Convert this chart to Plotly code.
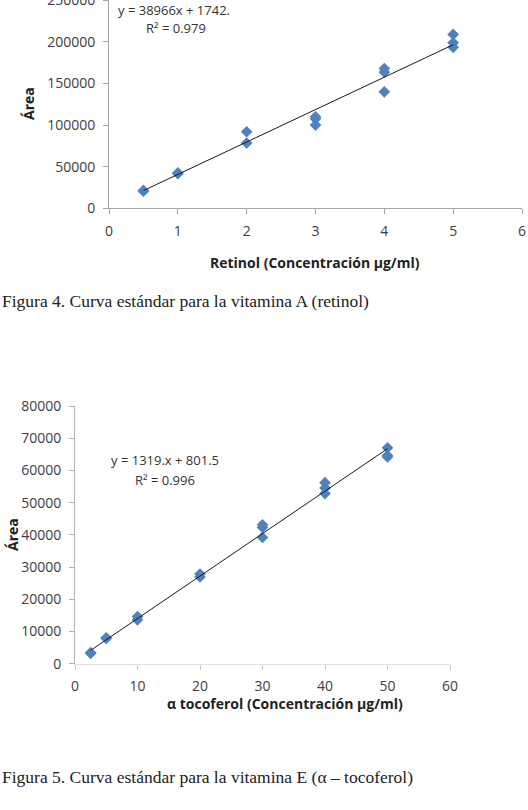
import plotly.graph_objects as go

# ---- data ----
ret_conc = [0.5, 0.5, 1, 1, 2, 2, 3, 3, 3, 4, 4, 4, 5, 5, 5]
ret_area = [20500, 21500, 41500, 42500, 92000, 78500, 110000, 107500, 100000,
            168000, 163500, 140000, 209000, 199000, 193500]
ret_slope, ret_intercept = 38966, 1742
ret_fit_x = [0.5, 5]

toc_conc = [2.5, 2.5, 5, 5, 10, 10, 20, 20, 30, 30, 30, 40, 40, 40, 50, 50, 50]
toc_area = [3200, 3400, 7800, 8000, 14600, 13600, 27800, 26900, 39200, 42300, 43100,
            56200, 54500, 52800, 67000, 64600, 64200]
toc_slope, toc_intercept = 1319, 801.5
toc_fit_x = [2.5, 50]

ret_xticks = [0, 1, 2, 3, 4, 5, 6]
ret_yticks = [0, 50000, 100000, 150000, 200000, 250000]
toc_xticks = [0, 10, 20, 30, 40, 50, 60]
toc_yticks = [0, 10000, 20000, 30000, 40000, 50000, 60000, 70000, 80000]

W, H = 528, 810
BLUE = "#4F81BD"
TICKFONT = dict(family="Open Sans", size=14, color="#404040")
TITLEFONT = dict(family="Open Sans", size=14, color="#222222")

def px(x):
    return x / W

def py(y):
    return 1 - y / H

fig = go.Figure()

# Retinol
fig.add_trace(go.Scatter(x=ret_conc, y=ret_area, mode="markers",
                         marker=dict(symbol="diamond", size=9, color=BLUE),
                         xaxis="x", yaxis="y", showlegend=False))
fig.add_trace(go.Scatter(x=ret_fit_x, y=[ret_slope * v + ret_intercept for v in ret_fit_x],
                         mode="lines", line=dict(color="#1a1a1a", width=1),
                         xaxis="x", yaxis="y", showlegend=False))
# Tocoferol
fig.add_trace(go.Scatter(x=toc_conc, y=toc_area, mode="markers",
                         marker=dict(symbol="diamond", size=9, color=BLUE),
                         xaxis="x2", yaxis="y2", showlegend=False))
fig.add_trace(go.Scatter(x=toc_fit_x, y=[toc_slope * v + toc_intercept for v in toc_fit_x],
                         mode="lines", line=dict(color="#1a1a1a", width=1),
                         xaxis="x2", yaxis="y2", showlegend=False))

axis_common = dict(showgrid=False, zeroline=False, showline=True, ticks="outside",
                   ticklen=5, tickfont=TICKFONT, tickformat="d",
                   ticklabeloverflow="allow", automargin=False)

fig.update_layout(
    width=W, height=H,
    margin=dict(l=0, r=0, t=0, b=0),
    paper_bgcolor="white", plot_bgcolor="white",
    xaxis=dict(domain=[px(109), px(522)], range=[0, 6], tickvals=ret_xticks,
               anchor="y", linecolor="#a6a6a6", tickcolor="#a6a6a6",
               ticklabelstandoff=5, **axis_common),
    yaxis=dict(domain=[py(208.3), 1.0], range=[0, 250360], tickvals=ret_yticks,
               anchor="x", linecolor="#a6a6a6", tickcolor="#a6a6a6",
               ticklabelstandoff=5, **axis_common),
    xaxis2=dict(domain=[px(75), px(450)], range=[0, 60], tickvals=toc_xticks,
                anchor="y2", linecolor="#e0e0e0", tickcolor="#c8c8c8",
                ticklabelstandoff=5, **axis_common),
    yaxis2=dict(domain=[py(663.6), py(406)], range=[0, 80000], tickvals=toc_yticks,
                anchor="x2", linecolor="#b0b0b0", tickcolor="#b0b0b0",
                ticklabelstandoff=5, **axis_common),
)

ann = []
def text(x, y, s, font, **kw):
    ann.append(dict(x=px(x), y=py(y), xref="paper", yref="paper", text=s,
                    showarrow=False, font=font, xanchor=kw.pop("xanchor", "center"),
                    yanchor=kw.pop("yanchor", "middle"), **kw))

EQFONT = dict(family="Open Sans", size=13, color="#333333")
text(174, 10, "y = 38966x + 1742.", EQFONT)
text(176, 28, "R² = 0.979", EQFONT)
text(315, 263, "<b>Retinol (Concentración µg/ml)</b>", TITLEFONT)
text(28, 104, "<b>Área</b>", TITLEFONT, textangle=-90)

text(165, 460, "y = 1319.x + 801.5", EQFONT)
text(165, 480, "R² = 0.996", EQFONT)
text(285, 703, "<b>α tocoferol (Concentración µg/ml)</b>", TITLEFONT)
text(12, 535, "<b>Área</b>", TITLEFONT, textangle=-90)

CAPFONT = dict(family="Liberation Serif", size=17.5, color="#222222")
text(0, 301, "Figura 4. Curva estándar para la vitamina A (retinol)", CAPFONT, xanchor="left")
text(0, 777, "Figura 5. Curva estándar para la vitamina E (α – tocoferol)", CAPFONT, xanchor="left")

fig.update_layout(annotations=ann)
fig.write_html("out.html")
